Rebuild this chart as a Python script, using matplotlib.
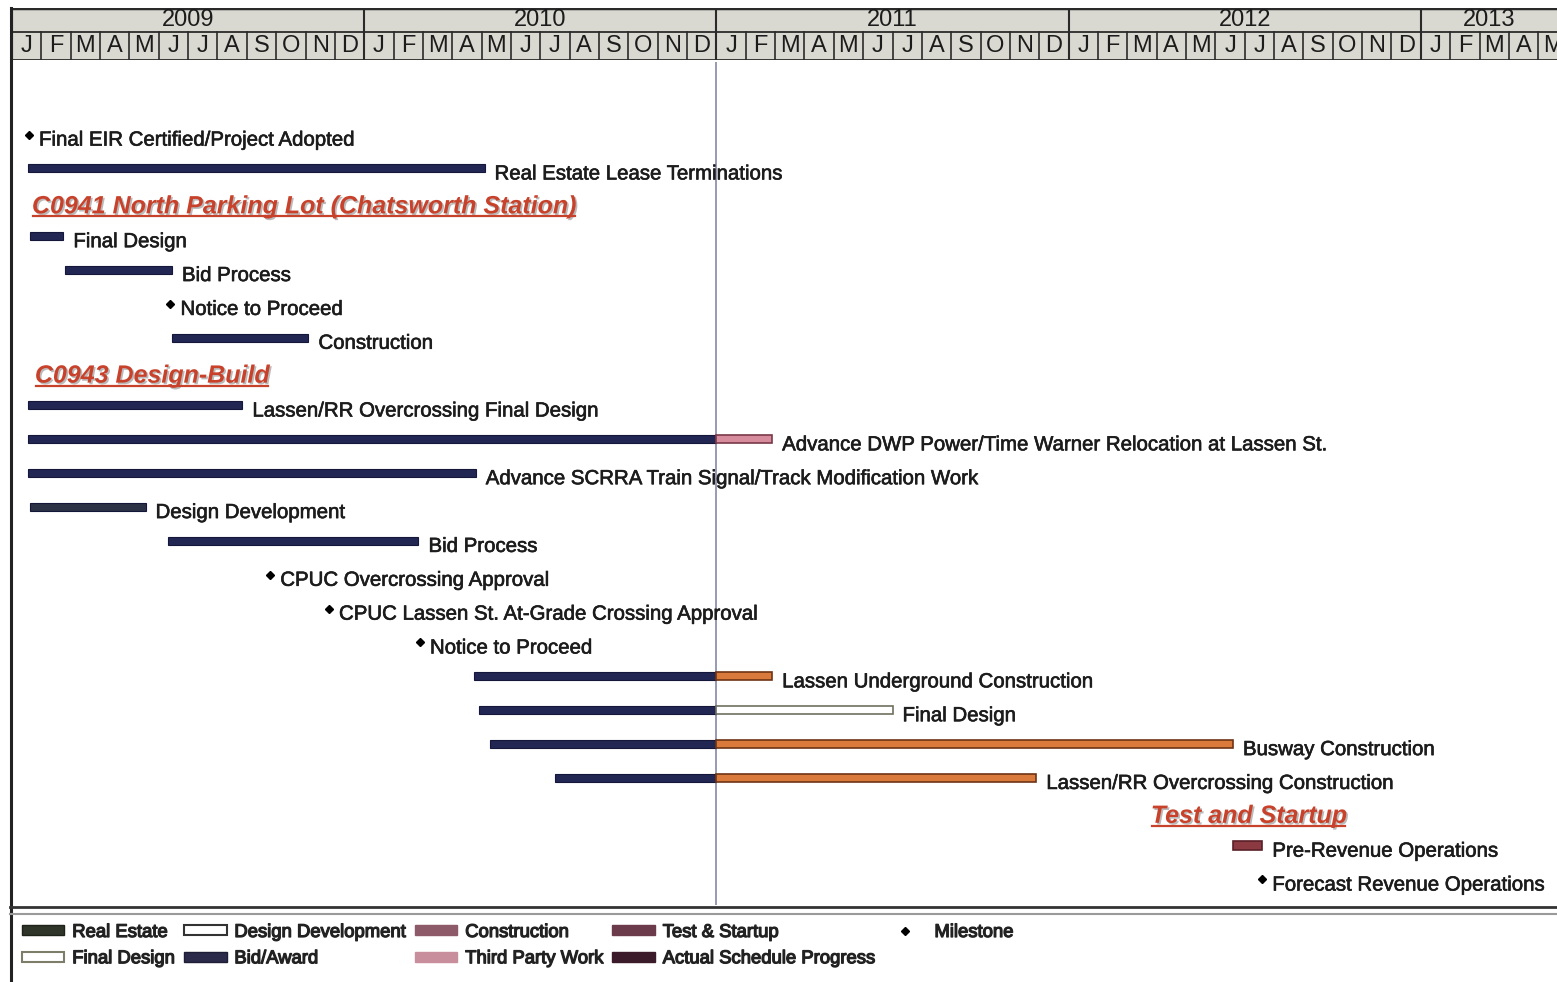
import math
import matplotlib
matplotlib.use('Agg')
import matplotlib.pyplot as plt
from matplotlib.patches import Patch
from matplotlib.lines import Line2D
import matplotlib.patheffects as pe

plt.rcParams['font.family'] = ['Liberation Sans', 'DejaVu Sans']

# time axis: months counted from start of Jan 2009
years = [2009, 2010, 2011, 2012, 2013]
month_letters = ['J', 'F', 'M', 'A', 'M', 'J', 'J', 'A', 'S', 'O', 'N', 'D']
data_date = 24.0  # status line (start of Jan 2011)

tasks = ['Final EIR Certified/Project Adopted',
         'Real Estate Lease Terminations',
         'C0941 North Parking Lot (Chatsworth Station)',
         'Final Design',
         'Bid Process',
         'Notice to Proceed',
         'Construction',
         'C0943 Design-Build',
         'Lassen/RR Overcrossing Final Design',
         'Advance DWP Power/Time Warner Relocation at Lassen St.',
         'Advance SCRRA Train Signal/Track Modification Work',
         'Design Development',
         'Bid Process',
         'CPUC Overcrossing Approval',
         'CPUC Lassen St. At-Grade Crossing Approval',
         'Notice to Proceed',
         'Lassen Underground Construction',
         'Final Design',
         'Busway Construction',
         'Lassen/RR Overcrossing Construction',
         'Test and Startup',
         'Pre-Revenue Operations',
         'Forecast Revenue Operations']
kinds = ['ms', 'bar', 'head', 'bar', 'bar', 'ms', 'bar', 'head', 'bar', 'bar',
         'bar', 'bar', 'bar', 'ms', 'ms', 'ms', 'bar', 'bar', 'bar', 'bar',
         'head', 'bar', 'ms']
starts = [0.58, 0.55, 0.68, 0.6, 1.8, 5.4, 5.45, 0.78, 0.55, 0.55,
          0.55, 0.6, 5.3, 8.8, 10.8, 13.9, 15.75, 15.9, 16.3, 18.5,
          38.8, 41.6, 42.6]
finishes = [None, 16.1, None, 1.75, 5.45, None, 10.1, None, 7.85, 25.9,
            15.8, 4.55, 13.85, None, None, None, 25.9, 30.0, 41.6, 34.9,
            None, 42.6, None]
# activity type of the part that lies after the status line
remaining = [None, None, None, None, None, None, None, None, None, 'third',
             None, None, None, None, None, None, 'construction', 'final', 'construction', 'construction',
             None, 'test', None]

legend_labels = ['Real Estate', 'Final Design', 'Design Development', 'Bid/Award',
                 'Construction', 'Third Party Work', 'Test & Startup',
                 'Actual Schedule Progress', 'Milestone']

W, H = 1557, 982
px_month = 29.35
xmin = (10 - 12) / px_month
xmax = (W - 12) / px_month
row0, pitch = 134.5, 33.86

def fx(p):
    return p / W

def fy(p):
    return 1 - p / H

navy = '#222653'
navy_edge = '#14163a'
remain_style = {'third': ('#d68c9c', '#7a3848'),
                'construction': ('#d9793b', '#6e3415'),
                'final': ('white', '#6f6f60'),
                'test': ('#8b3a42', '#5a2028')}
head_red = '#c8412a'
txt = '#1c1c1c'
heavy = [pe.Stroke(linewidth=0.45, foreground=txt), pe.Normal()]

fig = plt.figure(figsize=(W / 100, H / 100), dpi=100)

# ---- header with years and months
axh = fig.add_axes([fx(10), fy(60), fx(W - 10), (60 - 8) / H])
axh.set_xlim(xmin, xmax)
axh.set_ylim(0, 52)
axh.set_facecolor('#d9d9d1')
axh.set_xticks([])
axh.set_yticks([])
for s in axh.spines.values():
    s.set_visible(False)
n_months = 12 * len(years)
for k in range(n_months + 1):
    axh.plot([k, k], [0, 28], color='#2a2a2a', lw=1.2, clip_on=True)
for k in range(min(n_months, math.ceil(xmax))):
    axh.text(k + 0.5, 13.5, month_letters[k % 12], ha='center', va='center',
             fontsize=17, color=txt, clip_on=True)
for j, yr in enumerate(years):
    axh.plot([12 * j, 12 * j], [0, 52], color='#2a2a2a', lw=1.5, clip_on=True)
    cx = (12 * j + min(12 * j + 12, xmax)) / 2
    axh.text(cx, 40, str(yr), ha='center', va='center', fontsize=17, color=txt)
axh.axhline(28, color='#2a2a2a', lw=1.3)
axh.axhline(52, color='#2a2a2a', lw=2.5)
axh.axhline(0, color='#2a2a2a', lw=1.3)

# ---- main gantt area
ax = fig.add_axes([fx(10), fy(905), fx(W - 10), (905 - 62) / H])
ax.set_xlim(xmin, xmax)
ax.set_ylim((905 - row0) / pitch, (62 - row0) / pitch)
ax.axis('off')

ax.axvline(data_date, color='#7b7f9e', lw=1.1, zorder=1)

bar_h = 0.24
head_texts = []
for i, name in enumerate(tasks):
    k = kinds[i]
    if k == 'head':
        t = ax.annotate(name, (starts[i], i), xytext=(0, -8), textcoords='offset points',
                        ha='left', va='baseline', fontsize=18, fontweight='bold',
                        fontstyle='italic', color=head_red,
                        path_effects=[pe.SimplePatchShadow(offset=(1.2, -1.2), shadow_rgbFace='#777777', alpha=0.5),
                                      pe.Normal()])
        head_texts.append((t, starts[i], i))
        continue
    if k == 'ms':
        ax.plot(starts[i], i, marker='D', ms=4.2, color='black', zorder=4)
        end = starts[i]
    else:
        s, f = starts[i], finishes[i]
        if s < data_date:
            col = '#2c3245' if name == 'Design Development' else navy
            ax.barh(i, min(f, data_date) - s, left=s, height=bar_h, color=col,
                    edgecolor=navy_edge, lw=0.8, zorder=3)
        if remaining[i] is not None:
            fc, ec = remain_style[remaining[i]]
            left = max(s, data_date)
            ax.barh(i, f - left, left=left, height=bar_h, color=fc,
                    edgecolor=ec, lw=1.2, zorder=3)
        end = f
    ax.annotate(name, (end, i), xytext=(7.2, -8), textcoords='offset points',
                ha='left', va='baseline', fontsize=14.7, color=txt, path_effects=heavy)

# underline the section headers
fig.canvas.draw()
inv = fig.transFigure.inverted()
for t, x, i in head_texts:
    bb = t.get_window_extent()
    base = ax.transData.transform((x, i))[1] - 8 * 100 / 72
    p0 = inv.transform((bb.x0 + 1, base - 3))
    p1 = inv.transform((bb.x1 - 2, base - 3))
    fig.add_artist(Line2D([p0[0], p1[0]], [p0[1], p1[1]], color=head_red, lw=1.6))

# ---- frame lines
fig.add_artist(Line2D([fx(10.5), fx(10.5)], [fy(8), fy(980)], color='#222222', lw=2.2))
fig.add_artist(Line2D([fx(10), 1], [fy(906.5), fy(906.5)], color='#333333', lw=2.0))
fig.add_artist(Line2D([fx(10), 1], [fy(914), fy(914)], color='#9a9a9a', lw=1.5))

# ---- legend
handles = [Patch(facecolor='#2f3529', edgecolor='#1e2219'),
           Patch(facecolor='white', edgecolor='#7d7d6a', lw=1.5),
           Patch(facecolor='white', edgecolor='#333333', lw=1.5),
           Patch(facecolor='#2b2a4a', edgecolor='#1e1d36'),
           Patch(facecolor='#8c5a68', edgecolor='#8c5a68'),
           Patch(facecolor='#c98e9c', edgecolor='#c98e9c'),
           Patch(facecolor='#6b3a4b', edgecolor='#6b3a4b'),
           Patch(facecolor='#3b1a2a', edgecolor='#3b1a2a'),
           Line2D([], [], marker='D', ms=4.5, color='black', lw=0)]
leg = fig.legend(handles, legend_labels, ncol=5, loc='upper left',
                 bbox_to_anchor=(fx(22), fy(924)), frameon=False,
                 prop=dict(size=13.3), handlelength=2.3,
                 handleheight=0.45, handletextpad=0.42, columnspacing=0.5,
                 labelspacing=0.5, borderpad=0, borderaxespad=0)
for tx in leg.get_texts():
    tx.set_color('#222222')
    tx.set_path_effects([pe.Stroke(linewidth=0.9, foreground='#222222'), pe.Normal()])

fig.savefig('out.png', dpi=100)
